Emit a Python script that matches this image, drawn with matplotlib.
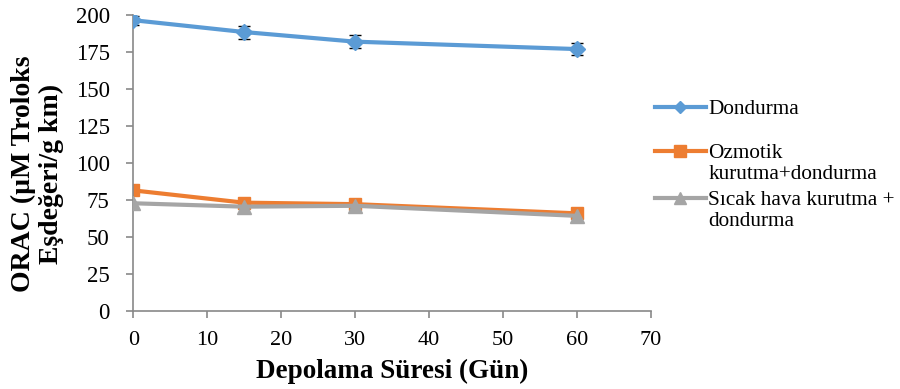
import matplotlib
matplotlib.use("Agg")
import matplotlib.pyplot as plt
from matplotlib.lines import Line2D

plt.rcParams['font.family'] = ['Liberation Serif', 'DejaVu Serif']

# Storage time (days)
days = [0, 15, 30, 60]

# ORAC values (µM Trolox equivalent / g dry matter)
dondurma = [196.5, 188.5, 182, 177]
dondurma_err = [3, 4.4, 4.4, 4.3]
ozmotik = [81.5, 73.2, 72.2, 66.0]
sicak_hava = [72.8, 70.5, 71.1, 64.3]

series_labels = ["Dondurma", "Ozmotik\nkurutma+dondurma", "Sıcak hava kurutma +\ndondurma"]
x_ticks = [0, 10, 20, 30, 40, 50, 60, 70]
y_ticks = [0, 25, 50, 75, 100, 125, 150, 175, 200]

blue = "#5B9BD5"
orange = "#ED7D31"
gray = "#A5A5A5"
spine_col = "#898989"

fig = plt.figure(figsize=(9, 3.89), dpi=100)
ax = fig.add_axes([0.1481, 0.2005, 0.5747, 0.7609])

ax.errorbar(days, dondurma, yerr=dondurma_err, color=blue, lw=3, marker="D",
            ms=8, ecolor="black", elinewidth=1, capsize=4, capthick=1, zorder=3)
ax.plot(days, sicak_hava, color=gray, lw=3, marker="^", ms=10, zorder=3)
ax.plot(days, ozmotik, color=orange, lw=3, marker="s", ms=9, zorder=2)

ax.set_xlim(0, 70)
ax.set_ylim(0, 200)
ax.set_xticks(x_ticks)
ax.set_yticks(y_ticks)
ax.tick_params(axis="both", colors=spine_col, labelcolor="black",
               length=5, width=1.2, direction="out")
ax.tick_params(axis="x", pad=9.5, labelsize=16)
ax.tick_params(axis="y", pad=12, labelsize=16.5)
for side in ("top", "right"):
    ax.spines[side].set_visible(False)
for side in ("left", "bottom"):
    ax.spines[side].set_color(spine_col)
    ax.spines[side].set_linewidth(1.2)

ax.set_xlabel("Depolama Süresi (Gün)", fontsize=19.5, fontweight="bold", labelpad=6)
ax.set_ylabel("ORAC (µM Troloks\nEşdeğeri/g km)", fontsize=20, fontweight="bold",
              linespacing=1.15)
ax.yaxis.set_label_coords(-0.134, 0.463)

# Legend drawn beside the plot area
legend_rows = [(blue, "D", 6, 0.726), (orange, "s", 8, 0.612), (gray, "^", 8, 0.491)]
for (col, mk, ms, yf), lab in zip(legend_rows, series_labels):
    fig.add_artist(Line2D([0.728, 0.784], [yf, yf], color=col, lw=3,
                          marker=None, transform=fig.transFigure))
    fig.add_artist(Line2D([0.756], [yf], color=col, marker=mk, ms=ms,
                          transform=fig.transFigure))
    fig.text(0.787, yf + 0.018, lab, fontsize=15.3, va="top", ha="left",
             linespacing=1.12)

fig.savefig("out.png", dpi=100)
